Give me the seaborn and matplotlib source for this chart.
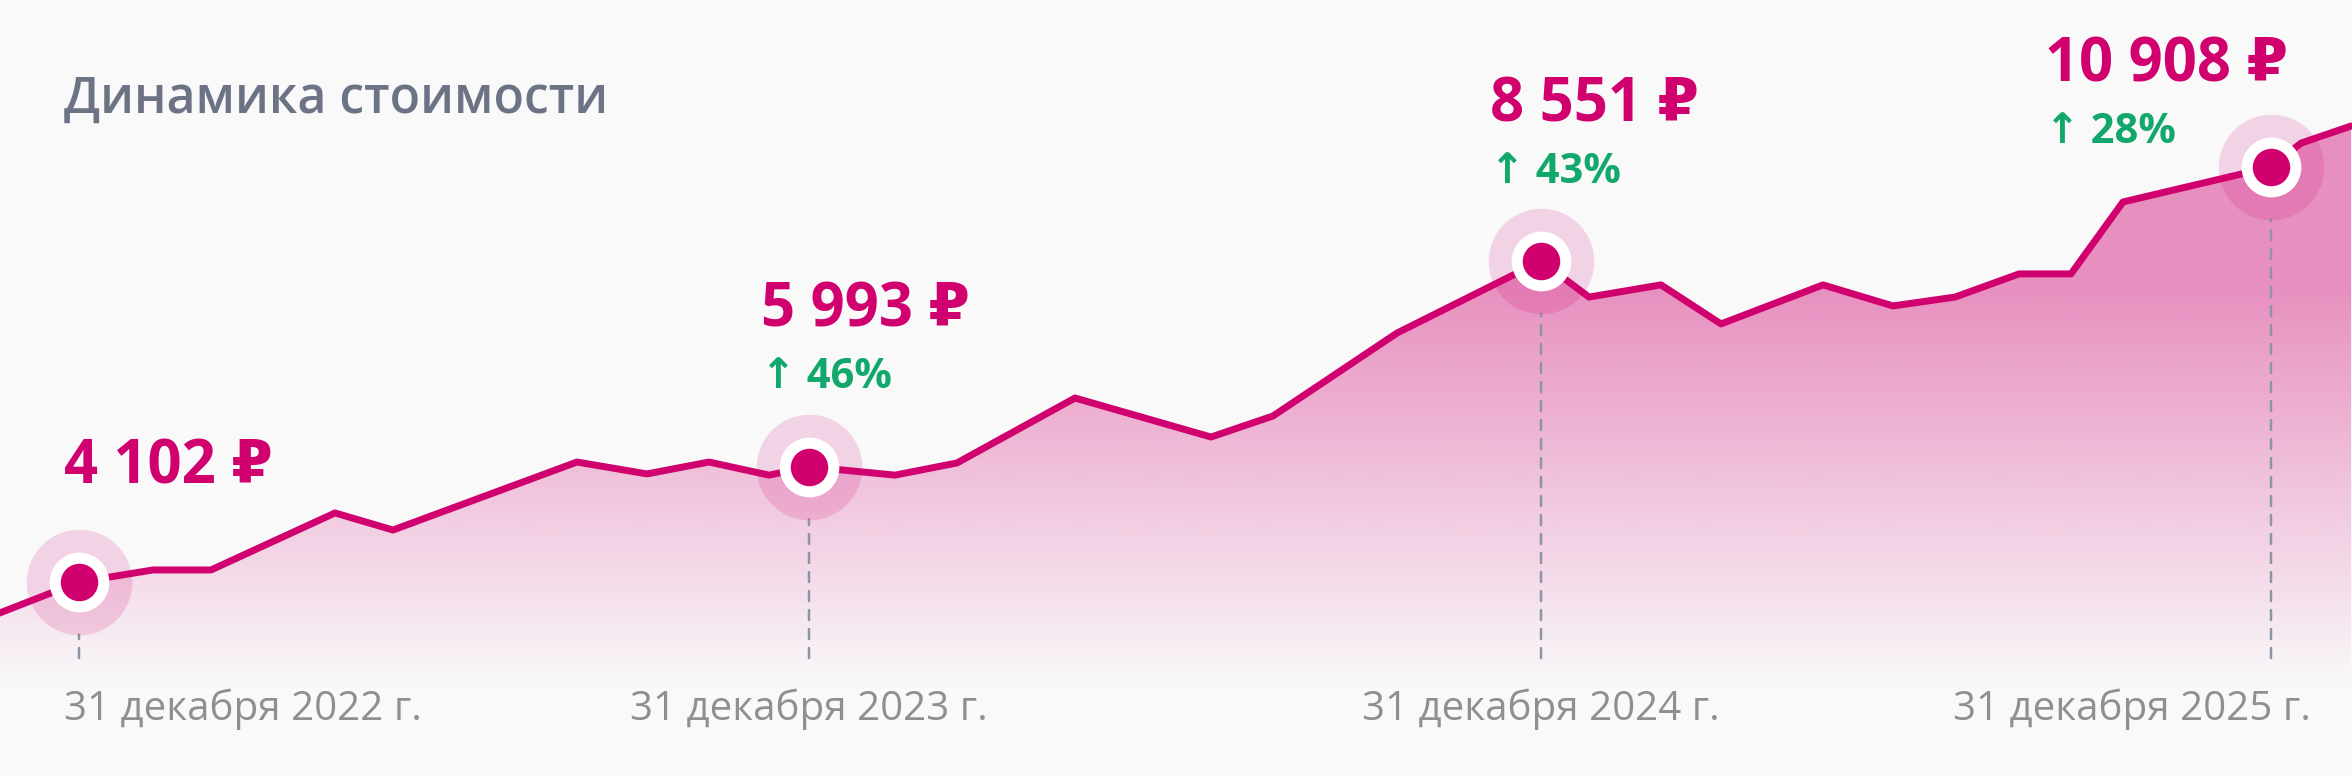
import numpy as np
import pandas as pd
import seaborn as sns
import matplotlib.pyplot as plt
import matplotlib.dates as mdates

# Данные
dates = pd.to_datetime([
    '2022-11-21', '2022-12-31', '2023-02-06', '2023-03-07', '2023-05-08', '2023-06-06',
    '2023-09-06', '2023-10-11', '2023-11-11', '2023-12-11', '2023-12-31', '2024-02-12',
    '2024-03-14', '2024-05-12', '2024-07-19', '2024-08-19', '2024-10-20', '2024-12-31',
    '2025-01-24', '2025-03-01', '2025-03-31', '2025-05-21', '2025-06-25', '2025-07-26',
    '2025-08-27', '2025-09-22', '2025-10-18', '2025-12-31', '2026-01-15', '2026-02-09',
])
# уровень линии по вертикальной шкале картинки
line_level = [
    3590, 4102, 4300, 4300, 5235, 4955,
    6070, 5875, 6070, 5855, 5993, 5855,
    6055, 7120, 6480, 6825, 8185, 9365,
    8775, 8975, 8335, 8975, 8630, 8775,
    9155, 9155, 10335, 10908, 11300, 11580,
]

marker_dates = pd.to_datetime(['2022-12-31', '2023-12-31', '2024-12-31', '2025-12-31'])
value_labels = ['4 102 ₽', '5 993 ₽', '8 551 ₽', '10 908 ₽']
growth_labels = [None, '↑ 46%', '↑ 43%', '↑ 28%']
date_labels = ['31 декабря 2022 г.', '31 декабря 2023 г.', '31 декабря 2024 г.', '31 декабря 2025 г.']

df = pd.DataFrame({'date': dates, 'level': line_level})
marker_level = df.set_index('date').loc[marker_dates, 'level'].values
marker_num = mdates.date2num(marker_dates.to_pydatetime())

# цвета
bg = '#f9f9fa'
magenta = '#d0006f'
green = '#12a86b'

sns.set_theme(style='white', rc={'figure.facecolor': bg, 'axes.facecolor': bg})
plt.rcParams['font.family'] = ['Open Sans', 'DejaVu Sans']

fig = plt.figure(figsize=(23.52, 7.76), dpi=100)
ax = fig.add_axes([0, 0, 1, 1])

x_left = pd.Timestamp('2022-12-31') - pd.Timedelta(hours=948)
x_right = pd.Timestamp('2025-12-31') + pd.Timedelta(hours=972)
y_bottom, y_top = 921, 13647

# линия
sns.lineplot(data=df, x='date', y='level', ax=ax, color=magenta, linewidth=5,
             zorder=4, solid_joinstyle='round', solid_capstyle='round')
ax.set_xlim(x_left, x_right)
ax.set_ylim(y_bottom, y_top)
ax.set_axis_off()

# градиентная заливка под линией
poly = ax.fill_between(df['date'], df['level'], y_bottom, facecolor='none', edgecolor='none')
rows = 776
ypix = np.arange(rows)
alpha = np.clip((690 - ypix) * 0.00105, 0, 0.42)
rgb = np.array([208, 0, 111]) / 255
grad = np.zeros((rows, 1, 4))
grad[:, 0, :3] = rgb
grad[:, 0, 3] = alpha
im = ax.imshow(grad, extent=[0, 1, 0, 1], transform=ax.transAxes, aspect='auto',
               origin='upper', zorder=1, interpolation='bilinear')
im.set_clip_path(poly.get_paths()[0], transform=ax.transData)
ax.set_xlim(x_left, x_right)
ax.set_ylim(y_bottom, y_top)

# пунктирные линии от точек вниз
for d, v in zip(marker_num, marker_level):
    ax.annotate('', xy=(d, v), xycoords='data',
                xytext=(d, 0.152), textcoords=ax.get_xaxis_transform(),
                arrowprops=dict(arrowstyle='-', color='#8d95a5', lw=1.8,
                                linestyle=(0, (4, 3.6)), shrinkA=0, shrinkB=38),
                zorder=2)

# маркеры
ax.scatter(marker_num, marker_level, s=76 ** 2, color=magenta, alpha=0.15,
           linewidths=0, zorder=3)
ax.scatter(marker_num, marker_level, s=43 ** 2, color='white', linewidths=0, zorder=5)
ax.scatter(marker_num, marker_level, s=27 ** 2, color=magenta, linewidths=0, zorder=6)

# подписи значений
value_offsets = [(-10.8, 71.3), (-34.6, 100.8), (-36.7, 100.8), (-162.7, 61.9)]
growth_offsets = [None, (-34.6, 56.9), (-36.7, 56.2), (-162.7, 17.3)]
for i, (d, v) in enumerate(zip(marker_num, marker_level)):
    ax.annotate(value_labels[i], xy=(d, v), xytext=value_offsets[i],
                textcoords='offset points', ha='left', va='baseline',
                fontsize=43, fontweight='bold', color=magenta, zorder=7)
    if growth_labels[i]:
        ax.annotate(growth_labels[i], xy=(d, v), xytext=growth_offsets[i],
                    textcoords='offset points', ha='left', va='baseline',
                    fontsize=30, fontweight='bold', color=green, zorder=7)

# подписи дат
date_ha = ['left', 'center', 'center', 'right']
date_dx = [-10.8, 0, 0, 28.8]
for d, lab, ha, dx in zip(marker_num, date_labels, date_ha, date_dx):
    ax.annotate(lab, xy=(d, 0.072), xycoords=ax.get_xaxis_transform(),
                xytext=(dx, 0), textcoords='offset points', ha=ha, va='baseline',
                fontsize=29, color='#8f8f8f')

fig.text(64 / 2352, 1 - 113 / 776, 'Динамика стоимости', fontsize=36,
         fontweight='semibold', color='#6c7385', ha='left', va='baseline')

fig.savefig('out.png', dpi=100, facecolor=bg)
